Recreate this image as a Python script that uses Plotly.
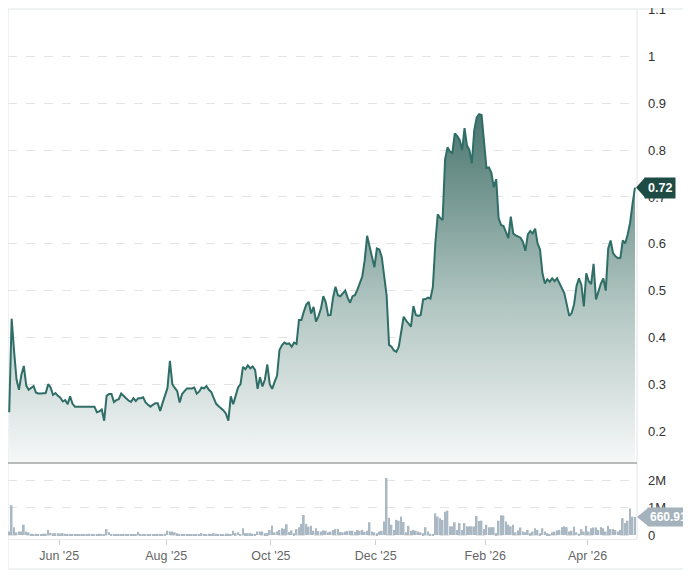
import pandas as pd
import plotly.graph_objects as go

# ---------------- data ----------------
start_date = "2025-05-02"

prices = [
    0.24,
    0.44, 0.37, 0.31, 0.288, 0.32,
    0.339, 0.297, 0.288, 0.292, 0.296,
    0.282, 0.28, 0.28, 0.28, 0.281,
    0.30, 0.293, 0.277, 0.281, 0.275,
    0.271, 0.263, 0.266, 0.257, 0.274,
    0.258, 0.252, 0.252, 0.252, 0.252,
    0.252, 0.252, 0.252, 0.252, 0.252,
    0.24, 0.242, 0.246, 0.222, 0.275,
    0.279, 0.279, 0.262, 0.266, 0.268,
    0.28, 0.276, 0.27, 0.265, 0.262,
    0.27, 0.264, 0.27, 0.27, 0.272,
    0.261, 0.256, 0.252, 0.256, 0.259,
    0.259, 0.243, 0.26, 0.275, 0.292,
    0.35, 0.30, 0.292, 0.285, 0.261,
    0.279, 0.285, 0.291, 0.291, 0.291,
    0.293, 0.28, 0.284, 0.293, 0.291,
    0.296, 0.288, 0.283, 0.27, 0.258,
    0.253, 0.249, 0.244, 0.237, 0.222,
    0.274, 0.257, 0.275, 0.293, 0.30,
    0.337, 0.332, 0.34, 0.334, 0.338,
    0.33, 0.29, 0.315, 0.295, 0.31,
    0.342, 0.30, 0.29, 0.305, 0.318,
    0.373, 0.383, 0.389, 0.386, 0.387,
    0.38, 0.389, 0.386, 0.437, 0.437,
    0.455, 0.47, 0.476, 0.451, 0.465,
    0.434, 0.445, 0.461, 0.488, 0.475,
    0.447, 0.448, 0.485, 0.508, 0.49,
    0.488, 0.494, 0.5, 0.485, 0.474,
    0.488, 0.49, 0.502, 0.515, 0.53,
    0.565, 0.617, 0.594, 0.57, 0.55,
    0.59, 0.588, 0.572, 0.53, 0.49,
    0.384, 0.38, 0.372, 0.369, 0.38,
    0.409, 0.444, 0.436, 0.43, 0.423,
    0.467, 0.448, 0.446, 0.448, 0.481,
    0.482, 0.485, 0.483, 0.508, 0.60,
    0.663, 0.655, 0.651, 0.78, 0.806,
    0.797, 0.794, 0.836, 0.83, 0.822,
    0.80, 0.847, 0.81, 0.80, 0.772,
    0.843, 0.87, 0.877, 0.875, 0.81,
    0.762, 0.763, 0.752, 0.721, 0.738,
    0.655, 0.64, 0.638, 0.625, 0.612,
    0.658, 0.622, 0.618, 0.616, 0.613,
    0.604, 0.585, 0.62, 0.627, 0.622,
    0.632, 0.601, 0.588, 0.537, 0.515,
    0.524, 0.519, 0.526, 0.52, 0.526,
    0.516, 0.505, 0.494, 0.47, 0.446,
    0.452, 0.471, 0.51, 0.526, 0.512,
    0.466, 0.537, 0.52, 0.514, 0.557,
    0.481, 0.50, 0.515, 0.526, 0.50,
    0.59, 0.607, 0.58, 0.573, 0.569,
    0.57, 0.607, 0.601, 0.62, 0.645,
    0.685, 0.72,
]

volumes_m = [
    0.13, 1.10, 0.29, 0.10, 0.13, 0.13, 0.38, 0.13, 0.10, 0.05,
    0.04, 0.05, 0.03, 0.04, 0.05, 0.05, 0.19, 0.08, 0.07, 0.07,
    0.07, 0.06, 0.07, 0.05, 0.03, 0.03, 0.02, 0.03, 0.02, 0.02,
    0.03, 0.02, 0.02, 0.05, 0.02, 0.02, 0.02, 0.05, 0.02, 0.03,
    0.22, 0.10, 0.03, 0.03, 0.02, 0.02, 0.03, 0.03, 0.02, 0.03,
    0.02, 0.03, 0.03, 0.12, 0.03, 0.03, 0.02, 0.02, 0.02, 0.03,
    0.02, 0.03, 0.04, 0.04, 0.05, 0.16, 0.13, 0.13, 0.10, 0.07,
    0.03, 0.03, 0.02, 0.02, 0.03, 0.02, 0.02, 0.03, 0.03, 0.07,
    0.03, 0.04, 0.05, 0.04, 0.07, 0.05, 0.04, 0.03, 0.04, 0.06,
    0.05, 0.04, 0.16, 0.07, 0.10, 0.04, 0.25, 0.07, 0.07, 0.07,
    0.05, 0.04, 0.13, 0.13, 0.13, 0.07, 0.07, 0.19, 0.35, 0.10,
    0.13, 0.19, 0.25, 0.23, 0.40, 0.11, 0.17, 0.07, 0.22, 0.29,
    0.41, 0.74, 0.41, 0.31, 0.34, 0.16, 0.25, 0.15, 0.13, 0.17,
    0.16, 0.10, 0.13, 0.19, 0.22, 0.22, 0.11, 0.10, 0.13, 0.15,
    0.16, 0.16, 0.11, 0.19, 0.16, 0.19, 0.12, 0.16, 0.47, 0.13,
    0.10, 0.07, 0.13, 0.16, 0.50, 2.10, 0.64, 0.38, 0.19, 0.56,
    0.53, 0.68, 0.48, 0.10, 0.34, 0.16, 0.19, 0.16, 0.13, 0.10,
    0.07, 0.29, 0.13, 0.05, 0.02, 0.80, 0.68, 0.62, 0.56, 0.86,
    0.90, 0.32, 0.32, 0.47, 0.19, 0.44, 0.19, 0.44, 0.32, 0.32,
    0.32, 0.32, 0.70, 0.52, 0.53, 0.22, 0.38, 0.29, 0.29, 0.29,
    0.07, 0.53, 0.73, 0.72, 0.50, 0.38, 0.32, 0.38, 0.10, 0.17,
    0.28, 0.13, 0.10, 0.19, 0.07, 0.13, 0.25, 0.19, 0.07, 0.25,
    0.13, 0.07, 0.04, 0.10, 0.13, 0.17, 0.19, 0.29, 0.32, 0.29,
    0.13, 0.16, 0.31, 0.10, 0.05, 0.22, 0.13, 0.34, 0.13, 0.25,
    0.28, 0.28, 0.19, 0.29, 0.25, 0.13, 0.34, 0.22, 0.22, 0.19,
    0.13, 0.19, 0.62, 0.44, 0.53, 0.98, 0.68, 0.66091,
]

tick_dates = ["2025-06-02", "2025-08-01", "2025-10-01", "2025-12-01", "2026-02-02", "2026-04-01"]
tick_labels = ["Jun '25", "Aug '25", "Oct '25", "Dec '25", "Feb '26", "Apr '26"]
price_ticks = [0.2, 0.3, 0.4, 0.5, 0.6, 0.7, 0.8, 0.9, 1.0, 1.1]
price_tick_labels = ["0.2", "0.3", "0.4", "0.5", "0.6", "0.7", "0.8", "0.9", "1", "1.1"]
vol_ticks = [0, 1e6, 2e6]
vol_tick_labels = ["0", "1M", "2M"]
last_price_label = "0.72"
last_volume_label = "660.91K"

# ---------------- layout geometry ----------------
# The page body has an 8px default margin, so the figure is sized to end at the window edge.
W, H = 683, 571
ML, MR, MT, MB = 0, 54, 1, 40
PLOT_W = W - ML - MR               # 629
PLOT_H = H - MT - MB               # 530
SEP = 455                          # separator line, px from top of figure
price_dom = [(H - MB - SEP) / PLOT_H, 1.0]
vol_dom = [0.0, (H - MB - SEP - 2) / PLOT_H]
price_range = [0.1316, 1.1016]
vol_range = [-0.145e6, 2.58e6]

n = min(len(prices), len(volumes_m))
prices = prices[:n]
volumes = [v * 1e6 for v in volumes_m[:n]]
dates = pd.bdate_range(start_date, periods=n) + pd.Timedelta(hours=12)

LINE = "#2f6d67"
FONT = "Liberation Sans, Arial, sans-serif"
fig = go.Figure()

fig.add_trace(go.Scatter(
    x=dates, y=prices, mode="lines",
    line=dict(color=LINE, width=2),
    fill="tozeroy",
    fillgradient=dict(
        type="vertical",
        start=price_range[0], stop=max(prices),
        colorscale=[[0, "rgb(246,248,248)"], [0.45, "rgb(178,198,194)"], [1, "rgb(74,118,111)"]],
    ),
    xaxis="x", yaxis="y", hoverinfo="skip", showlegend=False,
))

fig.add_trace(go.Bar(
    x=dates, y=volumes, marker=dict(color="#a9b8c2", line=dict(width=0)),
    xaxis="x2", yaxis="y2", hoverinfo="skip", showlegend=False,
))

rb = [dict(bounds=["sat", "mon"])]
x_range = [dates[0] - pd.Timedelta(hours=12), dates[-1] + pd.Timedelta(hours=20)]
tick_font = dict(family=FONT, size=13, color="#333333")

fig.update_layout(
    width=W, height=H,
    margin=dict(l=ML, r=MR, t=MT, b=MB, autoexpand=False),
    paper_bgcolor="white", plot_bgcolor="white",
    bargap=0.3,
    xaxis=dict(domain=[0, 1], anchor="y", matches="x2", range=x_range, rangebreaks=rb,
               automargin=False,
               showticklabels=False, showgrid=False, zeroline=False, showline=False),
    xaxis2=dict(domain=[0, 1], anchor="y2", range=x_range, rangebreaks=rb,
                automargin=False,
                tickvals=tick_dates, ticktext=tick_labels, ticks="outside", ticklen=5,
                tickcolor="#d0d0d0", showgrid=False, zeroline=False,
                showline=True, linecolor="#e6eaea", linewidth=1,
                tickfont=dict(family=FONT, size=12.5, color="#666666")),
    yaxis=dict(domain=price_dom, anchor="x", side="right", range=price_range,
               automargin=False,
               tickvals=price_ticks, ticktext=price_tick_labels,
               showgrid=True, gridcolor="#e4e4e4", griddash="dash", gridwidth=1,
               zeroline=False, showline=False, ticks="", ticklabelstandoff=10,
               ticklabeloverflow="allow", tickfont=tick_font),
    yaxis2=dict(domain=vol_dom, anchor="x2", side="right", range=vol_range,
                automargin=False,
                tickvals=vol_ticks, ticktext=vol_tick_labels,
                showgrid=True, gridcolor="#e4e4e4", griddash="dash", gridwidth=1,
                zeroline=False, showline=False, ticks="", ticklabelstandoff=10,
                ticklabeloverflow="allow", tickfont=tick_font),
)

def price_to_paper(v):
    return price_dom[0] + (v - price_range[0]) / (price_range[1] - price_range[0]) * (price_dom[1] - price_dom[0])

def vol_to_paper(v):
    return vol_dom[0] + (v - vol_range[0]) / (vol_range[1] - vol_range[0]) * (vol_dom[1] - vol_dom[0])

px_x = 1.0 / PLOT_W
px_y = 1.0 / PLOT_H

shapes = []
# outer container border (right and bottom parts visible)
shapes.append(dict(type="rect", xref="paper", yref="paper",
                   x0=0, x1=1 + 50 * px_x, y0=-30 * px_y, y1=1.0,
                   line=dict(color="#dfe6e5", width=1), fillcolor="rgba(0,0,0,0)", layer="below"))
# right edge of plot area
shapes.append(dict(type="line", xref="paper", yref="paper", x0=1, x1=1, y0=0, y1=1,
                   line=dict(color="#e2e6e6", width=1), layer="above"))
# separator between price and volume panes
shapes.append(dict(type="line", xref="paper", yref="paper", x0=0, x1=1,
                   y0=price_dom[0], y1=price_dom[0], line=dict(color="#b9b9b9", width=2), layer="above"))

# price tag arrow
py = price_to_paper(prices[-1])
PRICE_BG = "#1e4c45"
shapes.append(dict(type="path", xref="paper", yref="paper",
                   path=f"M {1 - 1*px_x},{py} L {1 + 8*px_x},{py + 10*px_y} L {1 + 8*px_x},{py - 10*px_y} Z",
                   fillcolor=PRICE_BG, line=dict(width=0), layer="above"))
# volume tag arrow
vy = vol_to_paper(volumes[-1])
VOL_BG = "#a4b2bc"
shapes.append(dict(type="path", xref="paper", yref="paper",
                   path=f"M {1 + 0*px_x},{vy} L {1 + 11*px_x},{vy + 9*px_y} L {1 + 11*px_x},{vy - 9*px_y} Z",
                   fillcolor=VOL_BG, line=dict(width=0), layer="above"))
fig.update_layout(shapes=shapes)

fig.add_annotation(xref="paper", yref="paper", x=1, y=py, xanchor="left", yanchor="middle",
                   xshift=7, text=f"<b>{last_price_label}</b>", showarrow=False,
                   font=dict(family=FONT, size=12.5, color="white"),
                   bgcolor=PRICE_BG, borderpad=3)
fig.add_annotation(xref="paper", yref="paper", x=1, y=vy, xanchor="left", yanchor="middle",
                   xshift=10, text=f"<b>{last_volume_label}</b>", showarrow=False,
                   font=dict(family=FONT, size=12, color="white"),
                   bgcolor=VOL_BG, borderpad=2)

fig.write_html("out.html")
